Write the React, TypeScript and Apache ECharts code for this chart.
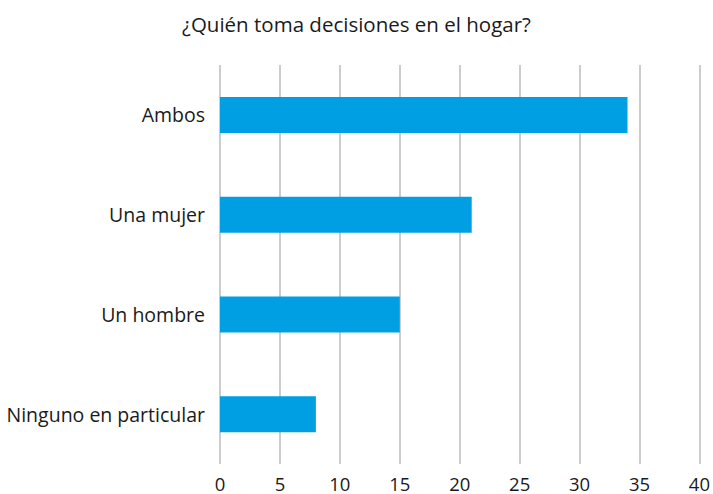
import React, { useEffect, useRef } from "react";
import * as echarts from "echarts";

const titleText = "¿Quién toma decisiones en el hogar?";
const categories = ["Ambos", "Una mujer", "Un hombre", "Ninguno en particular"];
const values = [34, 21, 15, 8];

export default function App() {
  const ref = useRef<HTMLDivElement>(null);
  useEffect(() => {
    if (!ref.current) return;
    const chart = echarts.init(ref.current, undefined, { renderer: "svg" });
    const font = "'Open Sans', 'Noto Sans', sans-serif";
    chart.setOption({
      animation: false,
      backgroundColor: "#ffffff",
      title: {
        text: titleText,
        left: "center",
        top: 8,
        textStyle: { fontFamily: font, fontSize: 20.5, fontWeight: "normal", color: "#1a1a1a" },
      },
      grid: { left: 220, right: 13, top: 65, bottom: 30, containLabel: false },
      xAxis: {
        type: "value",
        min: 0,
        max: 40,
        interval: 5,
        axisLine: { show: false },
        axisTick: { show: false },
        splitLine: { show: true, lineStyle: { color: "#cccccc", width: 2 } },
        axisLabel: { fontFamily: font, fontSize: 18.5, lineHeight: 16, color: "#1a1a1a", margin: 11 },
      },
      yAxis: {
        type: "category",
        data: categories,
        inverse: true,
        axisLine: { show: false },
        axisTick: { show: false },
        splitLine: { show: false },
        axisLabel: { fontFamily: font, fontSize: 19.5, color: "#1a1a1a", margin: 15 },
      },
      series: [
        {
          type: "bar",
          data: values,
          barWidth: 36,
          itemStyle: { color: "#009fe3" },
        },
      ],
    });
    return () => chart.dispose();
  }, []);
  return (
    <div
      ref={ref}
      style={{ position: "fixed", left: 0, top: 0, width: 713, height: 494 }}
    />
  );
}
